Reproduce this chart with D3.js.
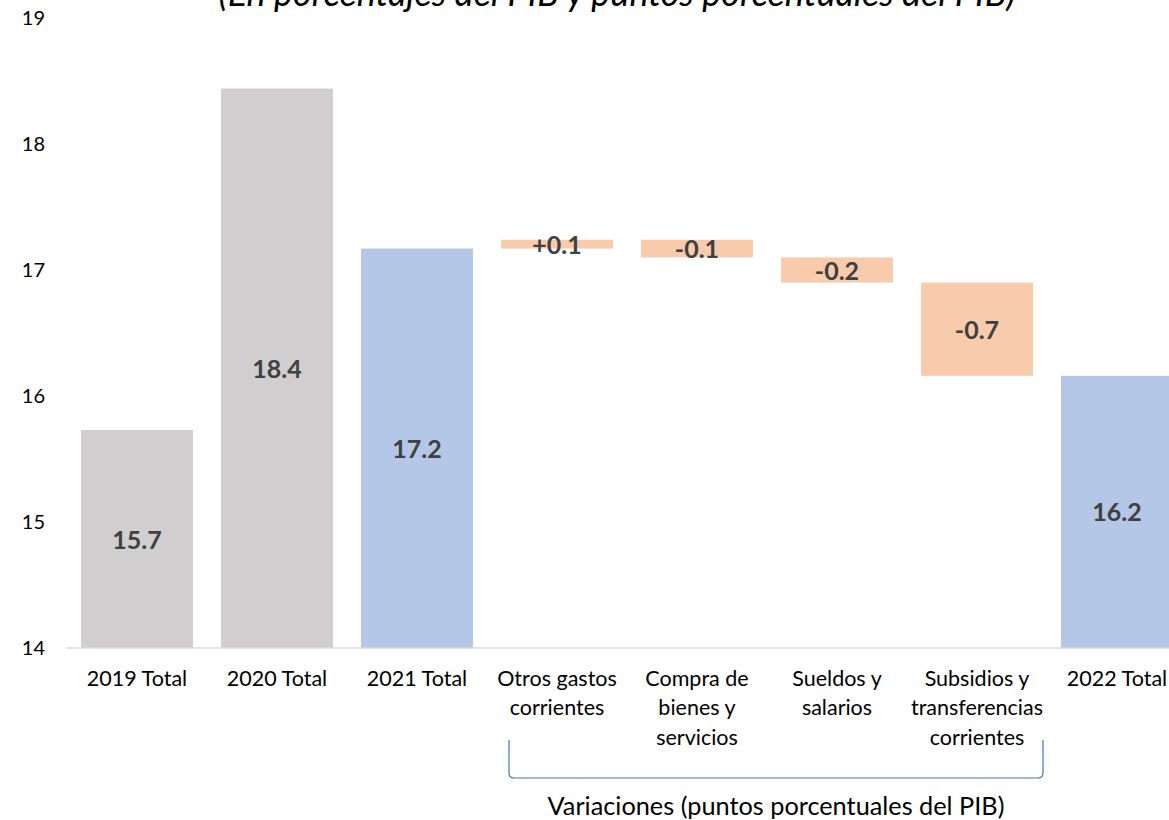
<!DOCTYPE html>
<html><head><meta charset="utf-8">
<script src="https://cdn.jsdelivr.net/npm/d3@7"></script>
<style>body{margin:0;background:#fff;} svg{display:block;}</style>
</head><body>
<svg id="c" width="1169" height="820"></svg>
<script>
const categories = ["2019 Total","2020 Total","2021 Total","Otros gastos\ncorrientes","Compra de\nbienes y\nservicios","Sueldos y\nsalarios","Subsidios y\ntransferencias\ncorrientes","2022 Total"];
const kinds = ["total","total","total","delta","delta","delta","delta","total"];
const values = [15.73,18.44,17.17,0.07,-0.14,-0.20,-0.74,16.16];
const valueLabels = ["15.7","18.4","17.2","+0.1","-0.1","-0.2","-0.7","16.2"];
const colorsByCat = ["#D0CECE","#D0CECE","#B4C7E7","#F8CBAD","#F8CBAD","#F8CBAD","#F8CBAD","#B4C7E7"];
const yTicks = [14,15,16,17,18,19];
const title = "(En porcentajes del PIB y puntos porcentuales del PIB)";
const groupLabel = "Variaciones (puntos porcentuales del PIB)";

const font = "Lato, 'Open Sans', sans-serif";
const svg = d3.select("#c");
const x = d3.scaleBand().domain(categories).range([67,1187]).paddingInner(0.2).paddingOuter(0.1);
const y = d3.scaleLinear().domain([14,19]).range([648,18]);

let running = 0;
const bars = categories.map((c,i)=>{
  let y0,y1;
  if(kinds[i]==="total"){ y0=14; y1=values[i]; running=values[i]; }
  else { y0=running; y1=running+values[i]; running=y1; }
  return {c, lo:Math.min(y0,y1), hi:Math.max(y0,y1), color:colorsByCat[i], label:valueLabels[i]};
});

svg.append("text").attr("x",617).attr("y",6).attr("text-anchor","middle")
  .attr("font-family",font).attr("font-style","italic").attr("font-size",36).attr("fill","#000").text(title);

svg.selectAll("rect.bar").data(bars).join("rect").attr("class","bar")
  .attr("x",d=>x(d.c)).attr("width",x.bandwidth())
  .attr("y",d=>y(d.hi)).attr("height",d=>y(d.lo)-y(d.hi)).attr("fill",d=>d.color);

svg.append("line").attr("x1",67).attr("x2",1169).attr("y1",y(14)).attr("y2",y(14))
  .attr("stroke","#D9D9D9").attr("stroke-width",1.5);

svg.selectAll("text.yt").data(yTicks).join("text").attr("class","yt")
  .attr("x",45).attr("y",d=>y(d)).attr("dy","0.35em").attr("text-anchor","end")
  .attr("font-family",font).attr("font-size",20).attr("fill","#000").text(d=>d);

svg.selectAll("text.vl").data(bars).join("text").attr("class","vl")
  .attr("x",d=>x(d.c)+x.bandwidth()/2).attr("y",d=>(y(d.lo)+y(d.hi))/2).attr("dy","0.38em")
  .attr("text-anchor","middle").attr("font-family",font).attr("font-weight","bold")
  .attr("font-size",25).attr("fill","#404040").text(d=>d.label);

const cl = svg.selectAll("text.cl").data(categories).join("text").attr("class","cl")
  .attr("text-anchor","middle").attr("font-family",font).attr("font-size",21.5).attr("fill","#000");
cl.each(function(d){
  const t=d3.select(this);
  d.split("\n").forEach((line,k)=>{
    t.append("tspan").attr("x",x(d)+x.bandwidth()/2).attr("y",678+k*29.5).attr("dy","0.35em").text(line);
  });
});

const bx0 = x(categories[3])+8, bx1 = x(categories[6])+x.bandwidth()+10;
const byTop=740, byBot=778, r=5;
svg.append("path").attr("fill","none").attr("stroke","#4472C4").attr("stroke-width",1.2)
  .attr("d",`M${bx0},${byTop} V${byBot-r} Q${bx0},${byBot} ${bx0+r},${byBot} H${bx1-r} Q${bx1},${byBot} ${bx1},${byBot-r} V${byTop}`);
svg.append("text").attr("x",(bx0+bx1)/2).attr("y",806).attr("dy","0.35em").attr("text-anchor","middle")
  .attr("font-family",font).attr("font-size",25.3).attr("fill","#000").text(groupLabel);
</script>
</body></html>
